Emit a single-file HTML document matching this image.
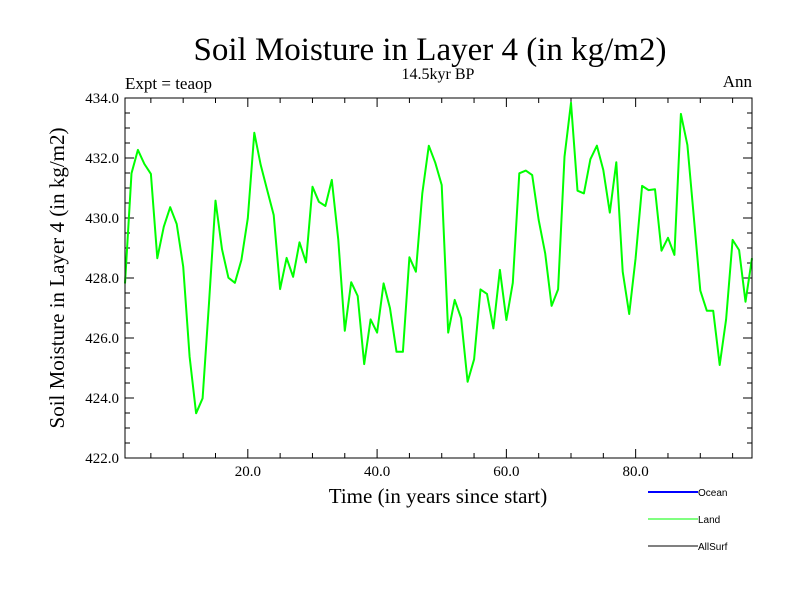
<!DOCTYPE html>
<html><head><meta charset="utf-8"><style>
body{margin:0;background:#fff}
svg text{font-family:"Liberation Serif",serif;fill:#000}
</style></head><body>
<svg id="chart" width="800" height="600" xmlns="http://www.w3.org/2000/svg">
<rect width="800" height="600" fill="#fff"/>
<text x="430" y="60" font-size="33" text-anchor="middle">Soil Moisture in Layer 4 (in kg/m2)</text>
<text x="438" y="79" font-size="16" text-anchor="middle">14.5kyr BP</text>
<text x="125" y="89" font-size="17">Expt = teaop</text>
<text x="752" y="87" font-size="17" text-anchor="end">Ann</text>
<text transform="translate(64,278) rotate(-90)" font-size="21" text-anchor="middle">Soil Moisture in Layer 4 (in kg/m2)</text>
<text x="438" y="503" font-size="21" text-anchor="middle">Time (in years since start)</text>
<g id="axes"></g>
<polyline id="series" fill="none" stroke="#00ff00" stroke-width="2" stroke-linejoin="round"/>
<rect x="125" y="98" width="627" height="360" fill="none" stroke="#000" stroke-width="1"/>
<g>
<line x1="648" y1="492" x2="698" y2="492" stroke="#0000ff" stroke-width="2"/>
<text x="698" y="496" font-size="10" style="font-family:'Liberation Sans',sans-serif">Ocean</text>
<line x1="648" y1="519" x2="698" y2="519" stroke="#00ff00" stroke-width="1"/>
<text x="698" y="523" font-size="10" style="font-family:'Liberation Sans',sans-serif">Land</text>
<line x1="648" y1="546" x2="698" y2="546" stroke="#000" stroke-width="1"/>
<text x="698" y="550" font-size="10" style="font-family:'Liberation Sans',sans-serif">AllSurf</text>
</g>
</svg>
<script>
const years = Array.from({length:98},(_,i)=>i+1);
const landValues = [427.82,431.49,432.27,431.8,431.47,428.66,429.71,430.36,429.8,428.38,425.38,423.49,423.99,427.16,430.58,428.96,428.01,427.84,428.6,429.99,432.84,431.77,430.93,430.1,427.63,428.67,428.04,429.19,428.52,431.04,430.54,430.4,431.27,429.27,426.24,427.86,427.4,425.13,426.62,426.18,427.82,426.99,425.54,425.54,428.69,428.21,430.82,432.41,431.84,431.1,426.18,427.27,426.66,424.54,425.29,427.62,427.47,426.32,428.27,426.6,427.84,431.49,431.58,431.43,429.93,428.82,427.07,427.62,432.04,433.84,430.91,430.82,431.96,432.41,431.6,430.18,431.86,428.21,426.8,428.66,431.07,430.93,430.96,428.91,429.34,428.77,433.47,432.43,430.04,427.58,426.91,426.91,425.1,426.62,429.27,428.93,427.21,428.66];
const yTicks = [422,424,426,428,430,432,434];
const xTicks = [20,40,60,80];
const L=125,R=752,T=98,B=458,xMin=1,xMax=98,yMin=422,yMax=434;
const xs=v=>L+(v-xMin)/(xMax-xMin)*(R-L);
const ys=v=>B-(v-yMin)/(yMax-yMin)*(B-T);
const NS='http://www.w3.org/2000/svg';
const g=document.getElementById('axes');
function ln(x1,y1,x2,y2,name){const e=document.createElementNS(NS,'line');e.setAttribute('x1',x1);e.setAttribute('y1',y1);e.setAttribute('x2',x2);e.setAttribute('y2',y2);e.setAttribute('stroke','#000');


g.appendChild(e);}
function tx(x,y,s,anchor,name){const e=document.createElementNS(NS,'text');e.setAttribute('x',x);e.setAttribute('y',y);e.setAttribute('font-size','15');e.setAttribute('text-anchor',anchor);e.textContent=s;


g.appendChild(e);}
for(let v=yMin;v<=yMax+1e-9;v+=0.5){const y=ys(v);const major=Math.abs(v-Math.round(v/2)*2)<1e-9;const len=major?9:5;ln(L,y,L+len,y,'y-tick');ln(R,y,R-len,y,'y-tick-right');}
yTicks.forEach(v=>tx(L-6,ys(v)+5,v.toFixed(1),'end','y-tick-label'));
for(let v=5;v<xMax;v+=5){const x=xs(v);const major=v%20===0;const len=major?9:5;ln(x,B,x,B-len,'x-tick');ln(x,T,x,T+len,'x-tick-top');}
xTicks.forEach(v=>tx(xs(v),476,v.toFixed(1),'middle','x-tick-label'));
document.getElementById('series').setAttribute('points',years.map((yr,i)=>xs(yr).toFixed(1)+','+ys(landValues[i]).toFixed(1)).join(' '));
</script>
</body></html>
